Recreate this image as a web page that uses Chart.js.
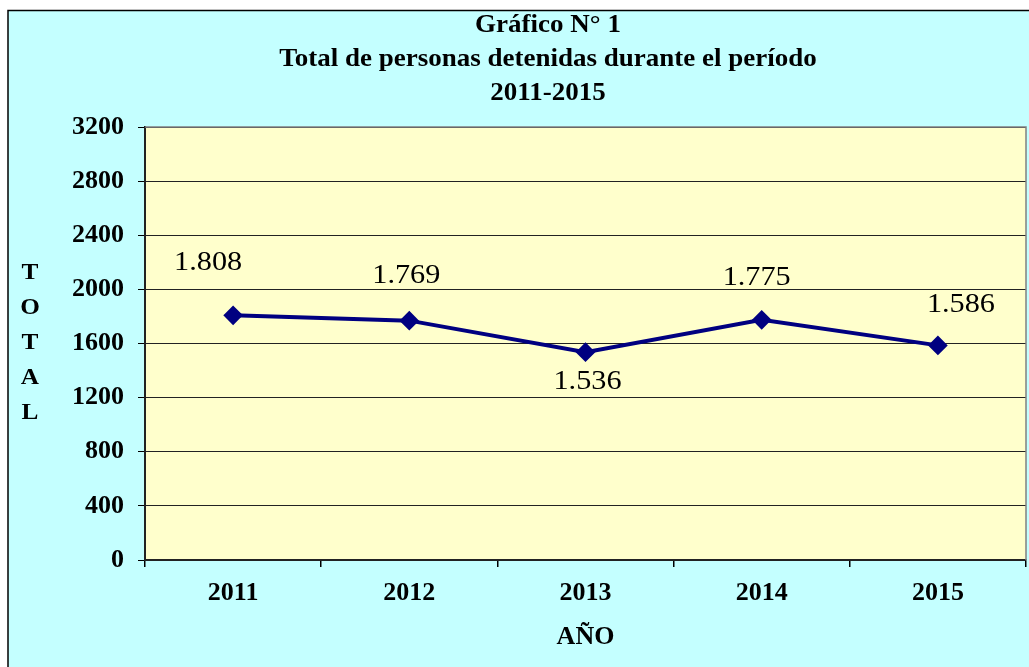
<!DOCTYPE html>
<html>
<head>
<meta charset="utf-8">
<script src="https://cdn.jsdelivr.net/npm/chart.js@4.4.1/dist/chart.umd.min.js"></script>
<style>
html,body{margin:0;padding:0;background:#fff;}
#wrap{position:relative;width:1029px;height:667px;}
</style>
</head>
<body>
<div id="wrap"><canvas id="c" width="1029" height="667"></canvas></div>
<script>
const categories = ['2011', '2012', '2013', '2014', '2015'];
const detenidos = [1808, 1769, 1536, 1775, 1586];
const valueLabels = ['1.808', '1.769', '1.536', '1.775', '1.586'];
const yTicks = [0, 400, 800, 1200, 1600, 2000, 2400, 2800, 3200];
const titleLines = ['Gráfico N° 1', 'Total de personas detenidas durante el período', '2011-2015'];
const yTitleLetters = ['T', 'O', 'T', 'A', 'L'];
const xTitle = 'AÑO';

const SERIF = '"Liberation Serif", "Times New Roman", serif';
const labelOffsets = [[-25, -52], [-3, -45], [2, 30], [-5, -42], [23, -40]];

function stretchedText(ctx, text, x, y, sx) {
  ctx.save();
  ctx.translate(x, y);
  ctx.scale(sx, 1);
  ctx.fillText(text, 0, 0);
  ctx.restore();
}

const decor = {
  id: 'decor',
  beforeDraw(chart) {
    const ctx = chart.ctx;
    const a = chart.chartArea;
    ctx.save();
    ctx.fillStyle = '#ffffff';
    ctx.fillRect(0, 0, chart.width, chart.height);
    ctx.fillStyle = '#C4FFFF';
    ctx.fillRect(8, 10, chart.width - 8, chart.height - 10);
    ctx.strokeStyle = '#000000';
    ctx.lineWidth = 1.5;
    ctx.beginPath();
    ctx.moveTo(8, chart.height);
    ctx.lineTo(8, 10.5);
    ctx.lineTo(chart.width, 10.5);
    ctx.stroke();
    ctx.fillStyle = '#FFFFCC';
    ctx.fillRect(a.left, a.top, a.right - a.left, a.bottom - a.top);
    ctx.restore();
  },
  afterDraw(chart) {
    const ctx = chart.ctx;
    const a = chart.chartArea;
    ctx.save();
    ctx.strokeStyle = '#808080';
    ctx.lineWidth = 1.5;
    ctx.beginPath();
    ctx.moveTo(a.left, a.top);
    ctx.lineTo(a.right, a.top);
    ctx.lineTo(a.right, a.bottom);
    ctx.stroke();
    ctx.fillStyle = '#000';
    ctx.textAlign = 'center';
    ctx.textBaseline = 'middle';
    ctx.font = 'bold 25px ' + SERIF;
    const ty = [26, 60, 94];
    titleLines.forEach((t, i) => stretchedText(ctx, t, 548, ty[i], 1.08));
    ctx.font = 'bold 23px ' + SERIF;
    yTitleLetters.forEach((l, i) => stretchedText(ctx, l, 30, 273 + i * 35, 1.1));
    ctx.font = '27px ' + SERIF;
    const meta = chart.getDatasetMeta(0);
    meta.data.forEach((pt, i) => {
      const o = labelOffsets[i];
      stretchedText(ctx, valueLabels[i], pt.x + o[0], pt.y + o[1], 1.12);
    });
    ctx.restore();
  }
};

new Chart(document.getElementById('c'), {
  type: 'line',
  data: {
    labels: categories,
    datasets: [{
      label: 'Total',
      data: detenidos,
      borderColor: '#000080',
      backgroundColor: '#000080',
      borderWidth: 4,
      pointStyle: 'rectRot',
      pointRadius: 7,
      pointHoverRadius: 7,
      pointBackgroundColor: '#000080',
      pointBorderColor: '#000080',
      tension: 0,
      fill: false
    }]
  },
  options: {
    responsive: false,
    animation: false,
    devicePixelRatio: 1,
    layout: { autoPadding: false, padding: { top: 127, right: 3, left: 0, bottom: 0 } },
    plugins: {
      legend: { display: false },
      title: { display: false },
      tooltip: { enabled: false }
    },
    scales: {
      x: {
        offset: true,
        afterFit(s) { s.height = 107; s.paddingLeft = 0; s.paddingRight = 0; },
        grid: {
          offset: true,
          drawOnChartArea: false,
          drawTicks: true,
          tickLength: 7,
          color: '#000',
          lineWidth: 1.5
        },
        border: { display: true, color: '#222', width: 2 },
        ticks: {
          color: '#000',
          padding: 11,
          font: { family: SERIF, size: 26, weight: 'bold' },
          maxRotation: 0
        },
        title: {
          display: true,
          text: xTitle,
          color: '#000',
          font: { family: SERIF, size: 26, weight: 'bold' },
          padding: { top: 0, bottom: 14 }
        }
      },
      y: {
        min: 0,
        max: 3200,
        afterFit(s) { s.width = 145; },
        afterBuildTicks(s) { s.ticks = yTicks.map(v => ({ value: v })); },
        grid: {
          color: '#222',
          lineWidth: 1,
          drawTicks: true,
          tickLength: 7,
          tickColor: '#000'
        },
        border: { display: true, color: '#222', width: 2 },
        ticks: {
          color: '#000',
          padding: 14,
          font: { family: SERIF, size: 26, weight: 'bold' },
          callback: (v) => String(v)
        }
      }
    }
  },
  plugins: [decor]
});
</script>
</body>
</html>
